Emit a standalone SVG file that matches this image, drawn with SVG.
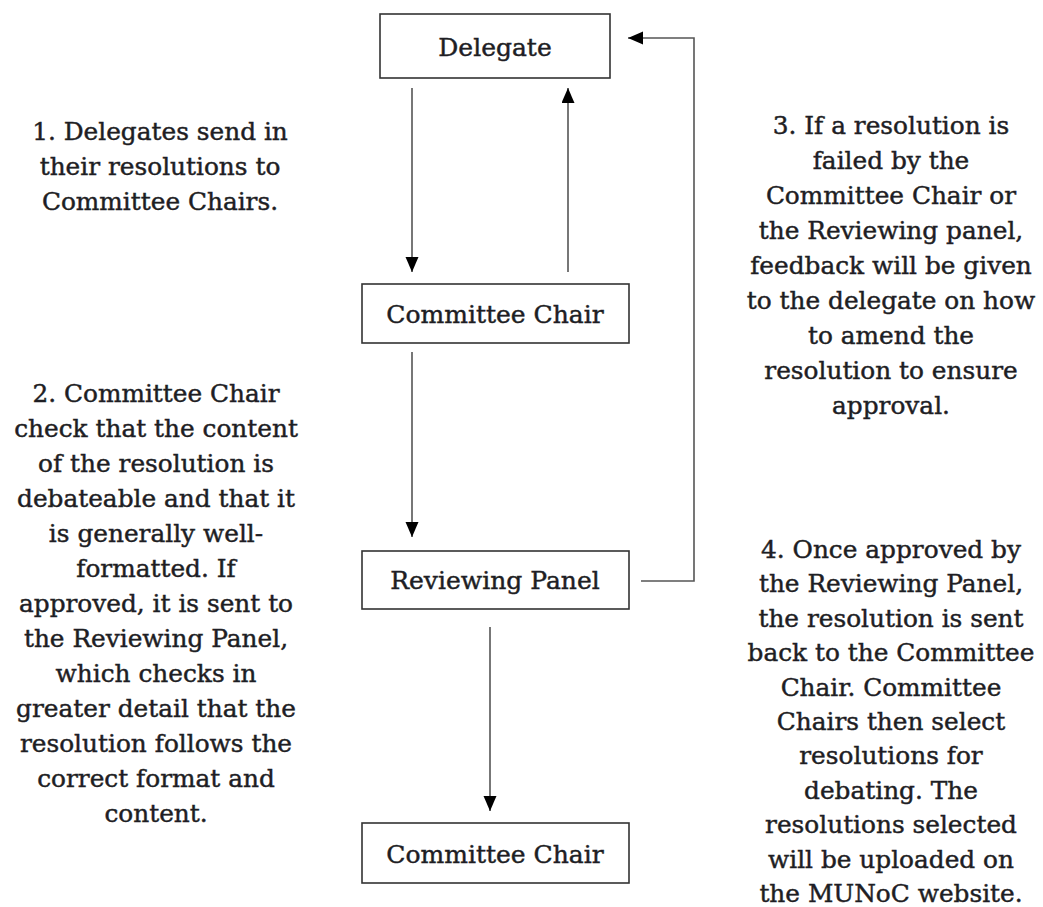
<svg xmlns="http://www.w3.org/2000/svg" width="1043" height="907" viewBox="0 0 1043 907">
<style>
.box{fill:#fff;stroke:#333;stroke-width:1.6}
.lbl{font-family:"DejaVu Serif","Liberation Serif",serif;font-size:25px;fill:#1e1e24;stroke:#1e1e24;stroke-width:0.45;text-anchor:middle}
.note{font-family:"DejaVu Serif","Liberation Serif",serif;font-size:24.8px;fill:#1e1e24;stroke:#1e1e24;stroke-width:0.45;text-anchor:middle}
.edge{fill:none;stroke:#555;stroke-width:1.6}
</style>
<defs>
<marker id="ah" markerUnits="userSpaceOnUse" markerWidth="16" markerHeight="14" refX="15" refY="6.5" orient="auto">
<path d="M0,0 L15,6.5 L0,13 z" fill="#000"/>
</marker>
</defs>
<rect width="1043" height="907" fill="#fff"/>
<g id="connectors">
<line class="edge" x1="412" y1="88" x2="412" y2="272" marker-end="url(#ah)"/>
<line class="edge" x1="568" y1="272" x2="568" y2="88" marker-end="url(#ah)"/>
<line class="edge" x1="412" y1="352" x2="412" y2="537" marker-end="url(#ah)"/>
<polyline class="edge" points="641,581 694,581 694,38 628,38" marker-end="url(#ah)"/>
<line class="edge" x1="490" y1="627" x2="490" y2="811" marker-end="url(#ah)"/>
</g>
<g id="delegate"><rect class="box" x="380" y="14" width="230" height="64"/><text class="lbl" x="495" y="56">Delegate</text></g>
<g id="chair1"><rect class="box" x="362" y="284" width="267" height="59"/><text class="lbl" x="495" y="323">Committee Chair</text></g>
<g id="panel"><rect class="box" x="362" y="551" width="267" height="58"/><text class="lbl" x="495" y="589">Reviewing Panel</text></g>
<g id="chair2"><rect class="box" x="362" y="823" width="267" height="60"/><text class="lbl" x="495" y="863">Committee Chair</text></g>
<g id="note1"><text class="note" x="160" y="140"><tspan x="160">1. Delegates send in</tspan><tspan x="160" dy="35">their resolutions to</tspan><tspan x="160" dy="35">Committee Chairs.</tspan></text></g>
<g id="note2"><text class="note" x="156" y="402"><tspan x="156">2. Committee Chair</tspan><tspan x="156" dy="35">check that the content</tspan><tspan x="156" dy="35">of the resolution is</tspan><tspan x="156" dy="35">debateable and that it</tspan><tspan x="156" dy="35">is generally well-</tspan><tspan x="156" dy="35">formatted. If</tspan><tspan x="156" dy="35">approved, it is sent to</tspan><tspan x="156" dy="35">the Reviewing Panel,</tspan><tspan x="156" dy="35">which checks in</tspan><tspan x="156" dy="35">greater detail that the</tspan><tspan x="156" dy="35">resolution follows the</tspan><tspan x="156" dy="35">correct format and</tspan><tspan x="156" dy="35">content.</tspan></text></g>
<g id="note3"><text class="note" x="891" y="134"><tspan x="891">3. If a resolution is</tspan><tspan x="891" dy="35">failed by the</tspan><tspan x="891" dy="35">Committee Chair or</tspan><tspan x="891" dy="35">the Reviewing panel,</tspan><tspan x="891" dy="35">feedback will be given</tspan><tspan x="891" dy="35">to the delegate on how</tspan><tspan x="891" dy="35">to amend the</tspan><tspan x="891" dy="35">resolution to ensure</tspan><tspan x="891" dy="35">approval.</tspan></text></g>
<g id="note4"><text class="note" x="891" y="558"><tspan x="891">4. Once approved by</tspan><tspan x="891" dy="34.4">the Reviewing Panel,</tspan><tspan x="891" dy="34.4">the resolution is sent</tspan><tspan x="891" dy="34.4">back to the Committee</tspan><tspan x="891" dy="34.4">Chair. Committee</tspan><tspan x="891" dy="34.4">Chairs then select</tspan><tspan x="891" dy="34.4">resolutions for</tspan><tspan x="891" dy="34.4">debating. The</tspan><tspan x="891" dy="34.4">resolutions selected</tspan><tspan x="891" dy="34.4">will be uploaded on</tspan><tspan x="891" dy="34.4">the MUNoC website.</tspan></text></g>
</svg>
